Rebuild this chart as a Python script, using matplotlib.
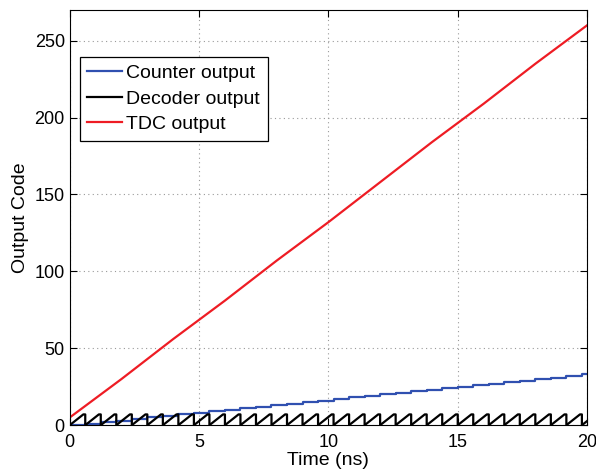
import matplotlib
matplotlib.use('Agg')
import matplotlib.pyplot as plt

# values
step_ns = 0.6                         # one counter period
counter_values = [0, 1, 2, 3, 4, 5, 6, 7, 8, 9, 10, 11, 12, 13, 14, 15, 16,
                  17, 18, 19, 20, 21, 22, 23, 24, 25, 26, 27, 28, 29, 30, 31, 32, 33]
decoder_codes = [0, 1, 2, 3, 4, 5, 6, 7]
tdc_t = [0, 2, 4, 6, 8, 10, 12, 14, 16, 18, 20]
tdc_values = [5, 30, 56, 81, 107, 132, 158, 184, 209, 235, 260]

# counter staircase
cnt_x = []
cnt_y = []
for k, v in enumerate(counter_values):
    cnt_x += [k * step_ns, (k + 1) * step_ns]
    cnt_y += [v, v]

# decoder sawtooth, one tooth per counter period
dec_x = []
dec_y = []
for k in range(len(counter_values)):
    for i, c in enumerate(decoder_codes):
        dec_x.append(k * step_ns + i * step_ns / len(decoder_codes))
        dec_y.append(c)
    dec_x.append((k + 1) * step_ns)
    dec_y.append(decoder_codes[-1])

plt.rcParams['font.family'] = ['Liberation Sans', 'DejaVu Sans']

fig = plt.figure(figsize=(5.96, 4.74), dpi=100)
ax = fig.add_axes([0.117, 0.103, 0.868, 0.876])

ax.plot(cnt_x, cnt_y, color='#3050b0', lw=1.6, label='Counter output')
ax.plot(dec_x, dec_y, color='black', lw=1.6, label='Decoder output')
ax.plot(tdc_t, tdc_values, color='#ee1c24', lw=1.6, label='TDC output')

ax.set_xlim(0, 20)
ax.set_ylim(0, 270)
ax.set_xticks([0, 5, 10, 15, 20])
ax.set_yticks([0, 50, 100, 150, 200, 250])
ax.grid(True, linestyle=(0, (1, 3)), color='#999999', lw=0.8)
ax.tick_params(direction='in', labelsize=13, top=True, right=True, length=5)
ax.tick_params(axis='x', pad=6)
ax.set_xlabel('Time (ns)', fontsize=14, labelpad=1)
ax.set_ylabel('Output Code', fontsize=14, labelpad=4)

leg = ax.legend(loc='upper left', bbox_to_anchor=(0.019, 0.887), fontsize=14,
                fancybox=False, framealpha=1, edgecolor='black',
                handlelength=1.8, handletextpad=0.2, borderpad=0.4,
                labelspacing=0.4, borderaxespad=0)
leg.get_frame().set_linewidth(0.9)

fig.savefig('out.png', dpi=100)
